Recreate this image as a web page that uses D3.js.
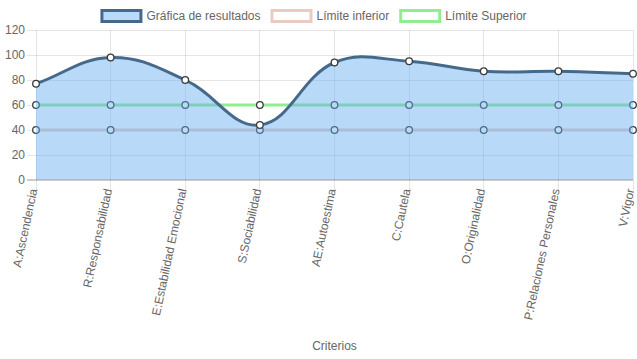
<!DOCTYPE html>
<html>
<head>
<meta charset="utf-8">
<script src="https://cdn.jsdelivr.net/npm/d3@7"></script>
<style>
  html, body { margin: 0; padding: 0; background: #fff; }
  svg { display: block; font-family: "Liberation Sans", Arial, Helvetica, sans-serif; }
</style>
</head>
<body>
<svg id="chart" width="637" height="359"></svg>
<script>
const categories = ["A:Ascendencia", "R:Responsabilidad", "E:Estabilidad Emocional", "S:Sociabilidad",
  "AE:Autoestima", "C:Cautela", "O:Originalidad", "P:Relaciones Personales", "V:Vigor"];
const resultados = [77, 98, 80, 44, 94, 95, 87, 87, 85];
const limiteInferior = [40, 40, 40, 40, 40, 40, 40, 40, 40];
const limiteSuperior = [60, 60, 60, 60, 60, 60, 60, 60, 60];
const yTicks = [0, 20, 40, 60, 80, 100, 120];
const legendLabels = ["Gráfica de resultados", "Límite inferior", "Límite Superior"];
const xTitle = "Criterios";

(function () {
const W = 637, H = 359;
const pLeft = 36, pRight = 633, pTop = 30, pBottom = 180;
const svg = d3.select("#chart");

const x = d3.scalePoint().domain(categories).range([pLeft, pRight]);
const y = d3.scaleLinear().domain([0, 120]).range([pBottom, pTop]);

// Chart.js style spline curve (tension 0.4)
function ChartJsCurve(context) { this._context = context; }
ChartJsCurve.prototype = {
  areaStart() { this._line = 0; },
  areaEnd() { this._line = NaN; },
  lineStart() { this._pts = []; },
  point(px, py) { this._pts.push([+px, +py]); },
  lineEnd() {
    const p = this._pts, c = this._context, t = 0.4;
    if (p.length) {
      if (this._line) c.lineTo(p[0][0], p[0][1]); else c.moveTo(p[0][0], p[0][1]);
      const cap = (v) => Math.max(pTop, Math.min(pBottom, v));
      const cps = p.map((cur, i) => {
        const prev = p[i - 1] || cur, next = p[i + 1] || cur;
        const d01 = Math.hypot(cur[0] - prev[0], cur[1] - prev[1]);
        const d12 = Math.hypot(next[0] - cur[0], next[1] - cur[1]);
        let s01 = d01 / (d01 + d12), s12 = d12 / (d01 + d12);
        if (isNaN(s01)) s01 = 0; if (isNaN(s12)) s12 = 0;
        const fa = t * s01, fb = t * s12;
        return {
          prev: [cur[0] - fa * (next[0] - prev[0]), cap(cur[1] - fa * (next[1] - prev[1]))],
          next: [cur[0] + fb * (next[0] - prev[0]), cap(cur[1] + fb * (next[1] - prev[1]))]
        };
      });
      for (let i = 1; i < p.length; i++) {
        const a = cps[i - 1].next, b = cps[i].prev;
        c.bezierCurveTo(a[0], a[1], b[0], b[1], p[i][0], p[i][1]);
      }
    }
    if (this._line || (this._line !== 0 && p.length === 1)) c.closePath();
    this._line = 1 - this._line;
  }
};
const chartCurve = (ctx) => new ChartJsCurve(ctx);

// Gridlines
const g = svg.append("g");
g.selectAll(".hgrid").data(yTicks.filter(v => v !== 0)).join("line")
  .attr("x1", pLeft - 9).attr("x2", pRight)
  .attr("y1", d => y(d)).attr("y2", d => y(d))
  .attr("stroke", "rgba(0,0,0,0.1)").attr("stroke-width", 1).attr("shape-rendering", "crispEdges");
g.selectAll(".vgrid").data(categories).join("line")
  .attr("x1", d => x(d)).attr("x2", d => x(d))
  .attr("y1", pTop).attr("y2", pBottom + 10)
  .attr("stroke", "rgba(0,0,0,0.1)").attr("stroke-width", 1).attr("shape-rendering", "crispEdges");
g.append("line").attr("x1", pLeft - 9).attr("x2", pRight).attr("y1", y(0)).attr("y2", y(0))
  .attr("stroke", "rgba(0,0,0,0.2)").attr("stroke-width", 2);

// Y tick labels
svg.append("g").selectAll("text").data(yTicks).join("text")
  .attr("x", pLeft - 11).attr("y", d => y(d)).attr("dy", "0.35em")
  .attr("text-anchor", "end").attr("font-size", 12).attr("fill", "#666").text(d => d);

// X tick labels
svg.append("g").selectAll("text").data(categories).join("text")
  .attr("transform", d => `translate(${x(d) - 1.5},${pBottom + 9}) rotate(-78)`)
  .attr("text-anchor", "end").attr("dy", "0.25em")
  .attr("font-size", 12).attr("fill", "#666").text(d => d);

// X title
svg.append("text").attr("x", (pLeft + pRight) / 2).attr("y", 350)
  .attr("text-anchor", "middle").attr("font-size", 12).attr("fill", "#666").text(xTitle);

const line = d3.line().x((d, i) => x(categories[i])).y(d => y(d)).curve(chartCurve);
const area = d3.area().x((d, i) => x(categories[i])).y0(y(0)).y1(d => y(d)).curve(chartCurve);

const dark = "#45698b";
function drawPoints(data) {
  svg.append("g").selectAll("circle").data(data).join("circle")
    .attr("cx", (d, i) => x(categories[i])).attr("cy", d => y(d)).attr("r", 3.3)
    .attr("fill", "#fff").attr("stroke", "#3a3a3a").attr("stroke-width", 1.3);
}

svg.append("path").datum(limiteInferior).attr("d", line)
  .attr("fill", "none").attr("stroke", "#e8ccc3").attr("stroke-width", 3);
drawPoints(limiteInferior);
svg.append("path").datum(limiteSuperior).attr("d", line)
  .attr("fill", "none").attr("stroke", "#90ee90").attr("stroke-width", 3);
drawPoints(limiteSuperior);
svg.append("path").datum(resultados).attr("d", area)
  .attr("fill", "rgba(100,170,240,0.45)").attr("stroke", "none");
svg.append("path").datum(resultados).attr("d", line)
  .attr("fill", "none").attr("stroke", dark).attr("stroke-width", 3);
drawPoints(resultados);

// Legend
const legendStyles = [
  { fill: "#b9daf8", stroke: dark },
  { fill: "#fff", stroke: "#e8ccc3" },
  { fill: "#fff", stroke: "#90ee90" }
];
const lg = svg.append("g");
const items = lg.selectAll("g").data(legendLabels).join("g");
items.append("rect").attr("x", 1.5).attr("y", 10.5).attr("width", 39).attr("height", 11)
  .attr("fill", (d, i) => legendStyles[i].fill).attr("stroke", (d, i) => legendStyles[i].stroke).attr("stroke-width", 3);
items.append("text").attr("x", 46).attr("y", 16).attr("dy", "0.35em")
  .attr("font-size", 12).attr("fill", "#666").text(d => d);
const widths = [];
items.each(function () { widths.push(46 + d3.select(this).select("text").node().getComputedTextLength()); });
const gap = 10;
const total = d3.sum(widths) + gap * widths.length;
let cx = (W - total) / 2;
items.attr("transform", (d, i) => { const tx = cx; cx += widths[i] + gap; return `translate(${tx},0)`; });
})();
</script>
</body>
</html>
